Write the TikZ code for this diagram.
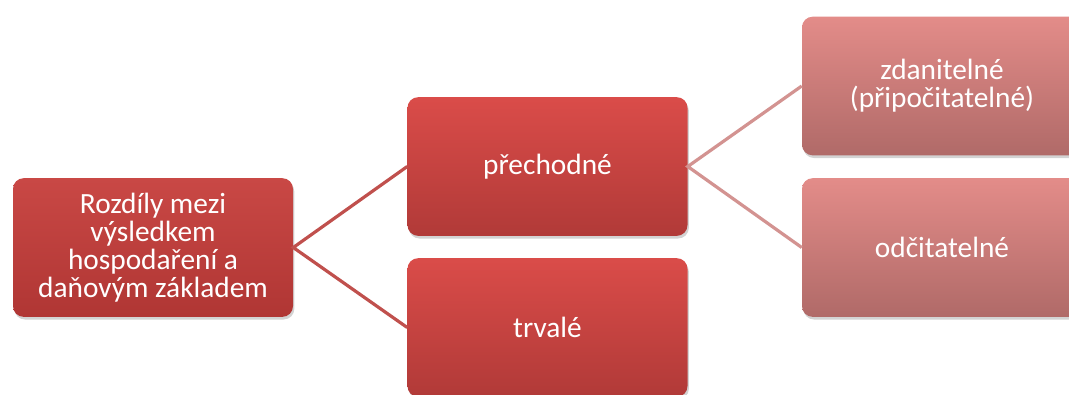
\documentclass[tikz,border=0pt]{standalone}
\usepackage{fontspec}
\setmainfont{Carlito}
\usetikzlibrary{shadows}
\definecolor{rootTop}{HTML}{C94845}
\definecolor{rootBot}{HTML}{B03634}
\definecolor{midTop}{HTML}{DA4C49}
\definecolor{midBot}{HTML}{B13A38}
\definecolor{rgtTop}{HTML}{E38C89}
\definecolor{rgtBot}{HTML}{B06A68}
\definecolor{linkDark}{HTML}{C0504D}
\definecolor{linkLight}{HTML}{D39391}
\tikzset{
  box/.style={rectangle, rounded corners=8pt, minimum width=210pt, minimum height=104pt,
    inner sep=0pt, text=white, align=center, font=\fontsize{22}{21}\selectfont,
    drop shadow={opacity=0.35, shadow xshift=1pt, shadow yshift=-2pt}},
  rootbox/.style={box, top color=rootTop, bottom color=rootBot},
  midbox/.style={box, top color=midTop, bottom color=midBot},
  rgtbox/.style={box, top color=rgtTop, bottom color=rgtBot},
  darklink/.style={draw=linkDark, line width=2.4pt},
  lightlink/.style={draw=linkLight, line width=2.4pt}
}
\begin{document}
\begin{tikzpicture}[x=0.75pt, y=-0.75pt]
\useasboundingbox (0,0) rectangle (1069,394);
\clip (0,0) rectangle (1069,394);
\node[rootbox] (root) at (153,247.5) {Rozdíly mezi\\výsledkem\\hospodaření a\\daňovým základem};
\node[midbox] (prech) at (547.5,166.5) {přechodné};
\node[midbox] (trv) at (547.5,327.5) {trvalé};
\node[rgtbox] (zdan) at (942,86) {zdanitelné\\(připočitatelné)};
\node[rgtbox] (odc) at (942,247.5) {odčitatelné};
\draw[darklink] (prech.west) -- (root.east) -- (trv.west);
\draw[lightlink] (zdan.west) -- (prech.east) -- (odc.west);
\end{tikzpicture}
\end{document}
